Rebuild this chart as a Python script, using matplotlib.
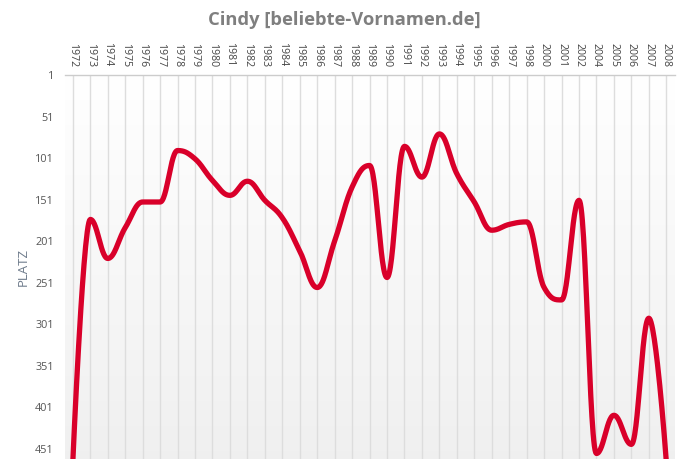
import numpy as np
import matplotlib.pyplot as plt

# Platz (rank) of the name Cindy per year
years = ["1972", "1973", "1974", "1975", "1976", "1977", "1978", "1979", "1980",
         "1981", "1982", "1983", "1984", "1985", "1986", "1987", "1988", "1989",
         "1990", "1991", "1992", "1993", "1994", "1995", "1996", "1997", "1998",
         "2000", "2001", "2002", "2004", "2005", "2006", "2007", "2008"]
platz = [466, 175, 222, 185, 154, 154, 92, 102, 128,
         146, 129, 152, 173, 213, 257, 201, 136, 110,
         245, 87, 124, 72, 120, 154, 188, 181, 178,
         257, 272, 152, 457, 411, 446, 294, 466]
y_ticks = [1, 51, 101, 151, 201, 251, 301, 351, 401, 451]


def spline_path(xs, ys, smoothing=1.5, steps=30):
    # highcharts-like spline through the points
    n = len(xs)
    left = [None] * n
    right = [None] * n
    for i in range(1, n - 1):
        lx, ly = xs[i - 1], ys[i - 1]
        px, py = xs[i], ys[i]
        nx, ny = xs[i + 1], ys[i + 1]
        d = smoothing + 1
        lcx = (smoothing * px + lx) / d
        lcy = (smoothing * py + ly) / d
        rcx = (smoothing * px + nx) / d
        rcy = (smoothing * py + ny) / d
        corr = (rcy - lcy) * (rcx - px) / (rcx - lcx) + py - rcy
        lcy += corr
        rcy += corr
        if lcy > ly and lcy > py:
            lcy = max(ly, py)
            rcy = 2 * py - lcy
        elif lcy < ly and lcy < py:
            lcy = min(ly, py)
            rcy = 2 * py - lcy
        if rcy > ny and rcy > py:
            rcy = max(ny, py)
            lcy = 2 * py - rcy
        elif rcy < ny and rcy < py:
            rcy = min(ny, py)
            lcy = 2 * py - rcy
        left[i] = (lcx, lcy)
        right[i] = (rcx, rcy)
    out_x, out_y = [xs[0]], [ys[0]]
    t = np.linspace(0, 1, steps)[1:]
    for i in range(1, n):
        p0 = (xs[i - 1], ys[i - 1])
        p1 = right[i - 1] or p0
        p3 = (xs[i], ys[i])
        p2 = left[i] or p3
        bx = (1 - t) ** 3 * p0[0] + 3 * (1 - t) ** 2 * t * p1[0] + 3 * (1 - t) * t ** 2 * p2[0] + t ** 3 * p3[0]
        by = (1 - t) ** 3 * p0[1] + 3 * (1 - t) ** 2 * t * p1[1] + 3 * (1 - t) * t ** 2 * p2[1] + t ** 3 * p3[1]
        out_x.extend(bx)
        out_y.extend(by)
    return np.array(out_x), np.array(out_y)


fig = plt.figure(figsize=(6.89, 4.74), dpi=100)
ax = fig.add_axes([65 / 689, 1 - 459.3 / 474, 610 / 689, 384.3 / 474])

x = np.arange(len(years))
xmin, xmax = -0.45, len(years) - 1 + 0.5
ymin, ymax = 464, 1

# background gradient white -> light gray
grad = np.linspace(1.0, 0.94, 256).reshape(-1, 1)
ax.imshow(np.dstack([grad, grad, grad]), extent=[xmin, xmax, ymin, ymax],
          aspect="auto", zorder=0, interpolation="bicubic")

for xi in x:
    ax.axvline(xi, color="#dddddd", lw=1, zorder=1)

sx, sy = spline_path(x.astype(float), np.array(platz, dtype=float))
ax.plot(sx, sy, color="#d9002a", lw=3.8, solid_capstyle="round", zorder=3)

ax.set_xlim(xmin, xmax)
ax.set_ylim(ymin, ymax)

ax.xaxis.tick_top()
ax.set_xticks(x)
ax.set_xticklabels(years, rotation=-90, fontsize=7.6, color="#444444",
                   family="Open Sans")
ax.tick_params(axis="x", length=0, pad=6)
ax.set_yticks(y_ticks)
ax.set_yticklabels([str(v) for v in y_ticks], fontsize=7.8, color="#555555",
                   family="Open Sans")
ax.tick_params(axis="y", length=0, pad=8)

for s in ["left", "right", "bottom"]:
    ax.spines[s].set_visible(False)
ax.spines["top"].set_color("#cccccc")
ax.spines["top"].set_linewidth(1)

ax.set_ylabel("PLATZ", fontsize=9.5, color="#6e7b8b", family="Open Sans")
ax.yaxis.set_label_coords(-0.058, 0.5)

fig.text(0.5, 1 - 20 / 474, "Cindy [beliebte-Vornamen.de]", ha="center",
         va="center", fontsize=13.2, fontweight="bold", color="#7f7f7f",
         family="Open Sans")

fig.savefig("out.png", dpi=100)
